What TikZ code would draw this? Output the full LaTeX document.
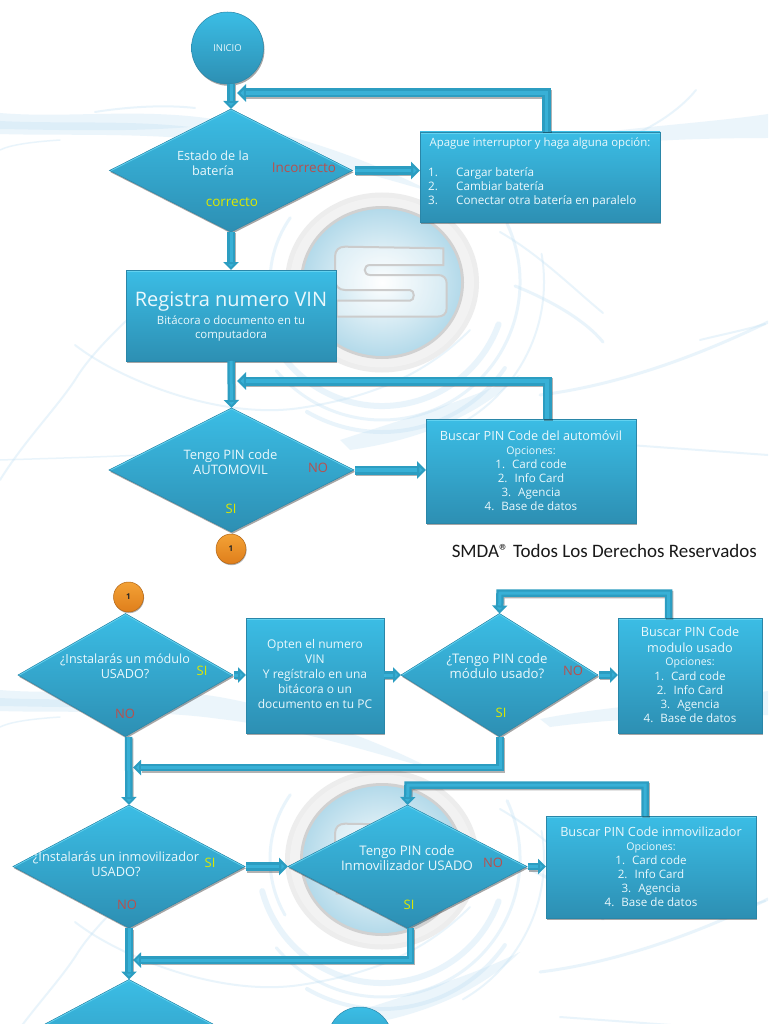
\documentclass[tikz,border=0pt]{standalone}
\usepackage{fontspec}
\setmainfont{Open Sans}
\newfontfamily\smdafont{Carlito}
\usetikzlibrary{shapes.geometric,shadows,arrows.meta}
\definecolor{cTop}{HTML}{3BBDE5}
\definecolor{cMid}{HTML}{37B0D6}
\definecolor{cBot}{HTML}{2D8FB3}
\definecolor{cEdge}{HTML}{2A86A8}
\definecolor{cHi}{HTML}{62D2F0}
\definecolor{cShaft}{HTML}{2C9DC1}
\definecolor{cShaftHi}{HTML}{38B0D6}
\definecolor{cTxt}{HTML}{EAF8FC}
\definecolor{cRed}{HTML}{B8504E}
\definecolor{cYel}{HTML}{DDE800}
\definecolor{cWisp}{HTML}{BFE0F4}
\definecolor{cDisc}{HTML}{B4DAEA}
\definecolor{cOrTop}{HTML}{F3A236}
\definecolor{cOrBot}{HTML}{DF7E1B}
\tikzset{
  solid3d/.style={top color=cTop,middle color=cMid,bottom color=cBot,draw=cEdge,line width=.5pt,inner sep=0pt,outer sep=0pt,
    drop shadow={shadow xshift=1pt,shadow yshift=-1.8pt,fill=black,opacity=.35}},
  boxn/.style={rectangle,solid3d,
    path picture={\fill[cHi] (path picture bounding box.north west) rectangle ([yshift=-1.6pt]path picture bounding box.north east);}},
  dia/.style={diamond,solid3d,
    path picture={\draw[cHi,line width=2.4pt] (path picture bounding box.west) -- (path picture bounding box.north) -- (path picture bounding box.east);}},
  circn/.style={circle,solid3d},
  orange/.style={circle,top color=cOrTop,bottom color=cOrBot,draw=cOrBot!80!black,line width=.5pt,inner sep=0pt,outer sep=0pt,minimum size=30pt,
    drop shadow={shadow xshift=.6pt,shadow yshift=-1.2pt,fill=black,opacity=.3}},
  txt/.style={text=cTxt,align=center,inner sep=0pt,font=\fontsize{11.6}{14}\selectfont},
  lblR/.style={text=cRed,inner sep=0pt,font=\fontsize{13}{15}\selectfont},
  lblY/.style={text=cYel,inner sep=0pt,font=\fontsize{13}{15}\selectfont},
  conn/.style={draw=cShaft,line width=9pt,line join=miter,-{Triangle[length=9pt,width=17pt,fill=cShaftHi]},
    preaction={draw=black,draw opacity=.3,-,line width=9pt,transform canvas={shift={(1pt,-1.5pt)}},shorten >=8pt},
    postaction={draw=cShaftHi,-,line width=3.5pt,shorten >=9pt,shorten <=0pt}},
  connthin/.style={draw=cShaft,line width=7.5pt,line join=miter,-{Triangle[length=8pt,width=15pt,fill=cShaftHi]},
    preaction={draw=black,draw opacity=.3,-,line width=7.5pt,transform canvas={shift={(1pt,-1.5pt)}},shorten >=8pt},
    postaction={draw=cShaftHi,-,line width=3pt,shorten >=8pt}},
  wispf/.style={fill=cWisp,fill opacity=.3,draw=none},
  wisps/.style={draw=cWisp,draw opacity=.33,line width=#1,line cap=round,fill=none},
}
\newcommand{\headfont}{\fontsize{12.7}{14}\selectfont}
\newcommand{\opcfont}{\fontsize{10.6}{14}\selectfont}
\newcommand{\backdrop}{%
  % band
  \path[wispf] (0,113) .. controls (70,119) and (150,106) .. (230,122) .. controls (300,136) and (370,160) .. (432,192)
     .. controls (360,172) and (290,150) .. (220,142) .. controls (150,132) and (60,136) .. (0,134) -- cycle;
  \path[wispf] (0,121) .. controls (60,124) and (130,120) .. (190,127) .. controls (130,132) and (60,130) .. (0,129) -- cycle;
  \path[wispf] (540,142) .. controls (610,128) and (700,124) .. (768,114) -- (768,138) .. controls (690,138) and (610,142) .. (550,150) -- cycle;
  \draw[wisps=2pt] (95,112) .. controls (120,108) and (160,104) .. (195,108);
  \draw[wisps=2pt] (620,140) .. controls (650,130) and (680,110) .. (696,90);
  \draw[wisps=1.5pt] (0,150) .. controls (10,145) and (30,142) .. (60,140);
  % concentric arcs
  \draw[wisps=6pt] (382,282) ++(20:124) arc[start angle=20,end angle=165,radius=124];
  \draw[wisps=3pt] (382,282) ++(-25:138) arc[start angle=-25,end angle=140,radius=138];
  \draw[wisps=4pt] (382,282) ++(35:150) arc[start angle=35,end angle=120,radius=150];
  \draw[wisps=2pt] (382,282) ++(-10:162) arc[start angle=-10,end angle=60,radius=162];
  \draw[wisps=3pt] (382,282) ++(150:112) arc[start angle=150,end angle=215,radius=112];
  % long strokes
  \draw[wisps=2pt] (0,480) .. controls (25,440) and (55,410) .. (75,380) .. controls (90,355) and (120,325) .. (160,290);
  \draw[wisps=1.5pt] (0,460) .. controls (60,458) and (150,456) .. (225,450);
  \draw[wisps=2pt] (75,345) .. controls (120,380) and (220,420) .. (300,408) .. controls (380,396) and (430,370) .. (470,330);
  \draw[wisps=3pt] (515,286) .. controls (550,300) and (585,320) .. (603,342);
  \draw[wisps=2pt] (500,232) .. controls (540,255) and (575,290) .. (603,313);
  \draw[wisps=3pt] (540,395) .. controls (620,385) and (700,355) .. (768,322);
  \draw[wisps=2pt] (700,340) .. controls (720,335) and (745,330) .. (765,324);
  \path[wispf] (340,440) .. controls (400,420) and (470,400) .. (520,375) .. controls (480,415) and (420,440) .. (350,450) -- cycle;
  \draw[wisps=2pt] (560,440) -- (768,455);
  % logo
  \fill[black!7] (382,282.5) ellipse[x radius=97,y radius=90];
  \fill[white!95!black] (382,282.5) ellipse[x radius=92,y radius=85];
  \fill[black!18] (382,282.5) ellipse[x radius=82,y radius=76.5];
  \shade[inner color=white,outer color=cDisc] (382,282.5) ellipse[x radius=79,y radius=73.5];
  \path[draw=black!20,line width=2pt,fill=white,fill opacity=.35]
    (443.3,248.3) -- (345,246.7) .. controls (339,246.7) and (335,250) .. (335,256.7) -- (335,280)
    .. controls (335,286) and (339,290) .. (345,290) -- (410,290)
    .. controls (415,290) and (415,300.7) .. (410,300.7) -- (336.7,300.7) -- (336.7,316.7) -- (436.7,316.7)
    .. controls (443,316.7) and (446.7,314) .. (446.7,308) -- (446.7,283.3)
    .. controls (446.7,278) and (443,275) .. (438.3,275) -- (370,275)
    .. controls (363,275) and (363,265) .. (370,265) -- (443.3,265) -- cycle;
}
\begin{document}
\begin{tikzpicture}[x=1pt,y=-1pt]
\useasboundingbox (0,0) rectangle (768,1024);
\clip (0,0) rectangle (768,1024);
\fill[white] (0,0) rectangle (768,1024);
\backdrop
\begin{scope}[shift={(0,577)}]\backdrop\end{scope}

% ---- nodes: first panel
\node[circn,minimum size=72pt] (inicio) at (227.5,48) {};
\node[dia,minimum width=243pt,minimum height=123pt] (d1) at (231,170.5) {};
\node[boxn,minimum width=240pt,minimum height=90pt] (box1) at (540,177) {};
\node[boxn,minimum width=210pt,minimum height=91pt] (box2) at (231,315.5) {};
\node[dia,minimum width=245pt,minimum height=124pt] (d2) at (231.5,470) {};
\node[boxn,minimum width=210pt,minimum height=104pt] (box3) at (531,471) {};
\node[orange] (one1) at (231,549) {};
% second panel
\node[orange] (one2) at (128.5,597) {};
\node[dia,minimum width=215pt,minimum height=123pt] (d3) at (125.5,675) {};
\node[boxn,minimum width=138pt,minimum height=115pt] (box4) at (315,675.5) {};
\node[dia,minimum width=197pt,minimum height=123pt] (d4) at (499.5,675) {};
\node[boxn,minimum width=144pt,minimum height=115pt] (box5) at (690,675.5) {};
\node[dia,minimum width=232pt,minimum height=123pt] (d5) at (129,866.5) {};
\node[dia,minimum width=239pt,minimum height=123pt] (d6) at (407.5,866.5) {};
\node[boxn,minimum width=210pt,minimum height=102pt] (box6) at (651,867) {};
\node[dia,minimum width=232pt,minimum height=123pt] (d7) at (129,1041) {};
\node[circn,minimum size=64pt] (fin) at (360,1039) {};

% ---- connector waypoints
\coordinate (w1) at (546.5,93);   \coordinate (e1) at (237,93);
\coordinate (w2) at (547,381);    \coordinate (e2) at (237,381);
\coordinate (w3) at (668.5,593);  \coordinate (w4) at (500,593);
\coordinate (w5) at (500,767.5);  \coordinate (e5) at (133,767.5);
\coordinate (w6) at (645,785);    \coordinate (w7) at (408,785);
\coordinate (w8) at (410.5,960);  \coordinate (e8) at (133,960);

% ---- connectors
\draw[connthin] (inicio.south -| d1.north) -- (d1.north);
\draw[conn] (w1 |- box1.north) -- (w1) -- (e1);
\draw[conn] (d1.east) ++(2,0) -- (box1.west |- d1.east);
\draw[connthin] (d1.south) -- (d1.south |- box2.north);
\draw[connthin] (box2.south) -- (d2.north);
\draw[conn] (w2 |- box3.north) -- (w2) -- (e2);
\draw[conn] (d2.east) ++(1,0) -- (box3.west |- d2.east);
\draw[connthin] (d3.east) ++(1,0) -- (box4.west |- d3.east);
\draw[connthin] (box4.east |- d4.west) -- (d4.west);
\draw[connthin] (d4.east) ++(1,0) -- (box5.west |- d4.east);
\draw[connthin] (w3 |- box5.north) -- (w3) -- (w4) -- (d4.north);
\draw[connthin] (d4.south -| w5) -- (w5) -- (e5);
\draw[connthin] (128.5,737) -- (d5.north);
\draw[conn] (d5.east) ++(1,0) -- (d6.west);
\draw[connthin] (d6.east) ++(1,0) -- (box6.west |- d6.east);
\draw[connthin] (w6 |- box6.north) -- (w6) -- (w7) -- (d6.north);
\draw[connthin] (d6.south -| w8) -- (w8) -- (e8);
\draw[connthin] (d5.south) -- (d7.north);

% ---- texts
\node[txt,font=\fontsize{9.5}{11}\selectfont] (t0) at (inicio) {INICIO};
\node[txt,font=\fontsize{12.7}{15}\selectfont] (t1) at (213,163) {Estado de la\\batería};
\node[lblR,font=\fontsize{13.5}{15}\selectfont] (t1a) at (304,167.5) {Incorrecto};
\node[lblY,font=\fontsize{13.5}{15}\selectfont] (t1b) at (232,202.5) {correcto};
\node[txt,font=\fontsize{11.4}{14}\selectfont] (t2) at (540,144) {Apague interruptor y haga alguna opción:};
\node[txt,font=\fontsize{11.7}{14}\selectfont,align=left,anchor=west] (t3) at (428,187)
  {\makebox[28pt][l]{1.}Cargar batería\\\makebox[28pt][l]{2.}Cambiar batería\\\makebox[28pt][l]{3.}Conectar otra batería en paralelo};
\node[txt,font=\fontsize{20}{22}\selectfont] (t4) at (231,301.5) {Registra numero VIN};
\node[txt,font=\fontsize{11.4}{14}\selectfont] (t5) at (231,328.5) {Bitácora o documento en tu\\computadora};
\node[txt,font=\fontsize{13}{15}\selectfont] (t6) at (230.5,462.5) {Tengo PIN code\\AUTOMOVIL};
\node[lblR] (t6a) at (318,468) {NO};
\node[lblY] (t6b) at (231,509) {SI};
\node[txt] (t7) at (531,470.8)
  {{\headfont Buscar PIN Code del automóvil}\\{\opcfont Opciones:}\\1.\hspace{7pt}Card code\\2.\hspace{7pt}Info Card\\3.\hspace{7pt}Agencia\\4.\hspace{7pt}Base de datos};
\node[text=black!85,inner sep=0pt,font=\fontsize{8}{9}\bfseries\selectfont] (n1) at (one1) {1};
\node[text=black!85,inner sep=0pt,font=\fontsize{8}{9}\bfseries\selectfont] (n2) at (one2) {1};
\node[inner sep=0pt,text=black!90,font=\fontsize{19}{22}\smdafont\selectfont,anchor=east] (sm) at (757,551) {SMDA® Todos Los Derechos Reservados};

\node[txt,font=\fontsize{12.6}{15}\selectfont] (t8) at (125,666.5) {¿Instalarás un módulo\\USADO?};
\node[lblY] (t8a) at (202,671) {SI};
\node[lblR] (t8b) at (125,714) {NO};
\node[txt,font=\fontsize{12}{15}\selectfont] (t9) at (315,674) {Opten el numero\\VIN\\Y regístralo en una\\bitácora o un\\documento en tu PC};
\node[txt,font=\fontsize{13.2}{15}\selectfont] (t10) at (497,666.5) {¿Tengo PIN code\\módulo usado?};
\node[lblR] (t10a) at (573,671) {NO};
\node[lblY] (t10b) at (501,713) {SI};
\node[txt] (t11) at (690,674.5)
  {{\headfont Buscar PIN Code}\\[1.5pt]{\headfont modulo usado}\\{\opcfont Opciones:}\\1.\hspace{7pt}Card code\\2.\hspace{7pt}Info Card\\3.\hspace{7pt}Agencia\\4.\hspace{7pt}Base de datos};
\node[txt,font=\fontsize{12.8}{15}\selectfont] (t12) at (116,864.5) {¿Instalarás un inmovilizador\\USADO?};
\node[lblY] (t12a) at (210,863) {SI};
\node[lblR] (t12b) at (127,905) {NO};
\node[txt,font=\fontsize{13.2}{15}\selectfont] (t13) at (407,858.5) {Tengo PIN code\\Inmovilizador USADO};
\node[lblR] (t13a) at (493,863) {NO};
\node[lblY] (t13b) at (409,905) {SI};
\node[txt] (t14) at (651,866.3)
  {{\headfont Buscar PIN Code inmovilizador}\\{\opcfont Opciones:}\\1.\hspace{7pt}Card code\\2.\hspace{7pt}Info Card\\3.\hspace{7pt}Agencia\\4.\hspace{7pt}Base de datos};
\end{tikzpicture}
\end{document}
